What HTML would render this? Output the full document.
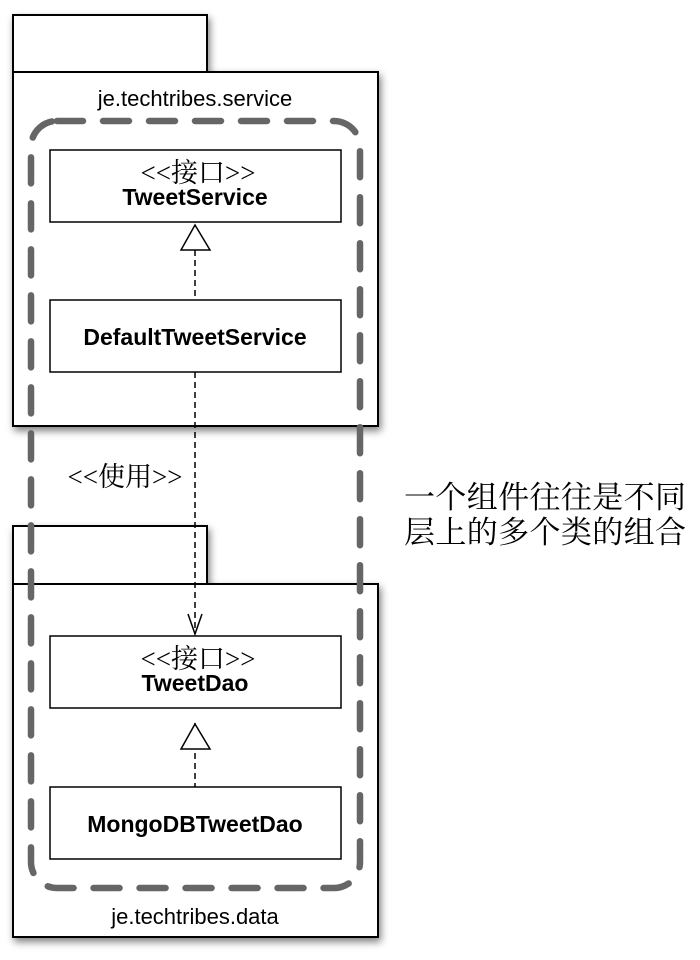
<!DOCTYPE html>
<html><head><meta charset="utf-8"><style>body{margin:0;background:#fff}</style></head>
<body>
<svg width="700" height="955" xmlns="http://www.w3.org/2000/svg">
<defs><filter id="sh" x="-10%" y="-10%" width="130%" height="130%"><feGaussianBlur in="SourceAlpha" stdDeviation="4"/><feOffset dx="2" dy="4"/><feComponentTransfer><feFuncA type="linear" slope="0.5"/></feComponentTransfer><feMerge><feMergeNode/><feMergeNode in="SourceGraphic"/></feMerge></filter></defs>
<g filter="url(#sh)" stroke="#000" stroke-width="2" fill="#fff">
<rect x="13" y="15" width="194" height="57"/>
<rect x="13" y="72" width="365" height="354"/>
<rect x="13" y="526" width="194" height="58"/>
<rect x="13" y="584" width="365" height="353"/>
</g>
<g font-family="Liberation Sans, sans-serif" text-anchor="middle">
<text x="195" y="106" font-size="22">je.techtribes.service</text>
<text x="195" y="924" font-size="22">je.techtribes.data</text>
</g>
<g stroke="#000" stroke-width="1.5" fill="#fff">
<rect x="50" y="150" width="291" height="72"/>
<rect x="50" y="300" width="291" height="72"/>
<rect x="50" y="636" width="291" height="72"/>
<rect x="50" y="787" width="291" height="72"/>
</g>
<g stroke="#000" stroke-width="1.5" fill="none" stroke-dasharray="6,4">
<line x1="195" y1="250" x2="195" y2="300"/>
<line x1="195" y1="372" x2="195" y2="634"/>
<line x1="195" y1="723" x2="195" y2="787"/>
</g>
<g stroke="#000" stroke-width="1.5" fill="#fff">
<polygon points="195,225 181,250 210,250"/>
<polygon points="195,724 181,749 210,749"/>
<polyline points="188,614 195,634 202,614" fill="none"/>
</g>
<rect x="31" y="121" width="329" height="767" rx="26" fill="none" stroke="#666" stroke-width="6.5" stroke-dasharray="26,20" stroke-linecap="round"/>
<g font-family="Liberation Serif, 'Noto Serif CJK SC', serif" text-anchor="middle" font-size="27">
<text x="198" y="182">&lt;&lt;接口&gt;&gt;</text>
<text x="198" y="668">&lt;&lt;接口&gt;&gt;</text>
<text x="125" y="486">&lt;&lt;使用&gt;&gt;</text>
</g>
<g font-family="Liberation Sans, sans-serif" font-weight="bold" text-anchor="middle" font-size="23">
<text x="195" y="205">TweetService</text>
<text x="195" y="345">DefaultTweetService</text>
<text x="195" y="691">TweetDao</text>
<text x="195" y="832">MongoDBTweetDao</text>
</g>
<g font-family="'Noto Serif CJK SC', serif" font-size="31">
<text x="404" y="508" textLength="282">一个组件往往是不同</text>
<text x="404" y="543" textLength="282">层上的多个类的组合</text>
</g>
</svg>
</body></html>
